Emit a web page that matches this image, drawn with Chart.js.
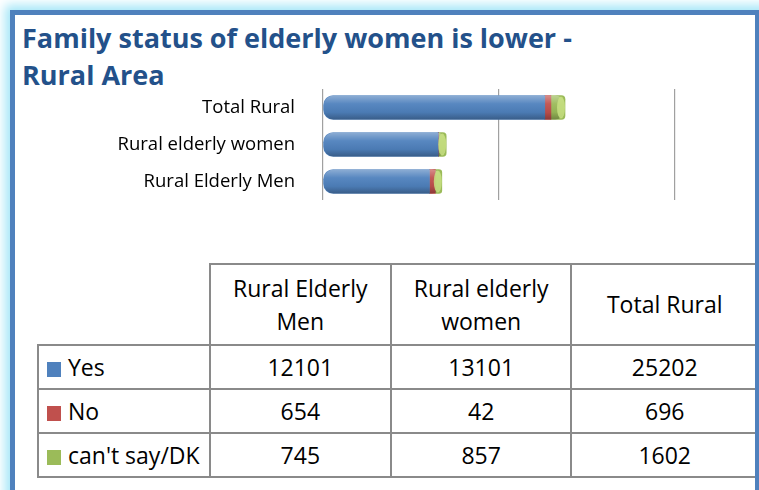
<!DOCTYPE html>
<html>
<head>
<meta charset="utf-8">
<script src="https://cdn.jsdelivr.net/npm/chart.js@4.4.1/dist/chart.umd.min.js"></script>
<style>
	html, body { margin:0; padding:0; width:759px; height:490px; overflow:hidden; background:#fff; font-family:'Open Sans', Lato, sans-serif; }
	.frame { position:absolute; left:10px; top:10px; width:760px; height:500px; background:#fff; border-left:5px solid #4f81bd; border-top:5px solid #4f81bd; box-shadow:0 0 10px 5px #a6e7f8; }
	.rstrip { position:absolute; left:755px; top:10px; width:4px; height:480px; background:#4f81bd; z-index:5; }
	.title { position:absolute; left:22px; top:19px; font-weight:bold; font-size:27px; line-height:37px; color:#23518a; white-space:nowrap; }
	.box { position:absolute; left:0; top:72px; width:759px; height:140px; }
	table { position:absolute; left:37px; top:263px; border-collapse:collapse; table-layout:fixed; font-size:23px; color:#000; }
	td, th { border:2px solid #8a8a8a; padding:0; font-weight:normal; text-align:center; }
	th { height:79px; line-height:33px; padding:0 12px; }
	td { height:42px; }
	th.blank { border-top:hidden; border-left:hidden; }
	td.lab { text-align:left; padding-left:8px; white-space:nowrap; }
	td.lab span { display:inline-block; width:14px; height:15px; margin-right:7px; vertical-align:-1px; }
</style>
</head>
<body>
<div class="frame"></div>
<div class="rstrip"></div>
<div class="title" id="title"></div>
<div class="box"><canvas id="c"></canvas></div>
<table id="tbl"></table>
<script>
const titleLines = ['Family status of elderly women is lower -', 'Rural Area']
const categories = ['Rural Elderly Men', 'Rural elderly women', 'Total Rural']
const seriesNames = ['Yes', 'No', "can't say/DK"]
const yesValues = [12101, 13101, 25202]
const noValues = [654, 42, 696]
const dkValues = [745, 857, 1602]
const colors = ['#4f81bd', '#c0504d', '#9bbb59']

document.getElementById('title').innerHTML = titleLines.join('<br>')

// data table under the chart
const tbl = document.getElementById('tbl')
const colW = [172, 184, 183, 190]
const cg = el => document.createElement(el)
;(a => {
	colW.forEach(w => { const c = cg('col'); c.style.width = w + 'px'; a.appendChild(c) })
})(tbl.appendChild(cg('colgroup')))
;(a => {
	const b = cg('th'); b.className = 'blank'; a.appendChild(b)
	categories.forEach(t => { const h = cg('th'); h.textContent = t; a.appendChild(h) })
})(tbl.appendChild(cg('tr')))
;[yesValues, noValues, dkValues].forEach((vals, i) => {
	const r = tbl.appendChild(cg('tr'))
	const l = cg('td'); l.className = 'lab'
	const s = cg('span'); s.style.background = colors[i]; l.appendChild(s)
	l.appendChild(document.createTextNode(seriesNames[i]))
	r.appendChild(l)
	vals.forEach(v => { const d = cg('td'); d.textContent = v; r.appendChild(d) })
})

// cylinder shading over each stacked bar
const shade = {
	id: 'shade',
	afterDatasetsDraw(chart) {
		const ctx = chart.ctx
		const m0 = chart.getDatasetMeta(0).data
		const m2 = chart.getDatasetMeta(2).data
		m0.forEach((e, i) => {
			const x0 = e.base, x1 = m2[i].x, y = e.y, h = e.height
			const g = ctx.createLinearGradient(0, y - h / 2, 0, y + h / 2)
			g.addColorStop(0, 'rgba(255,255,255,0.35)')
			g.addColorStop(0.35, 'rgba(255,255,255,0.05)')
			g.addColorStop(0.7, 'rgba(0,0,0,0.05)')
			g.addColorStop(1, 'rgba(0,0,0,0.28)')
			ctx.save()
			ctx.beginPath()
			ctx.roundRect(x0, y - h / 2, x1 - x0, h, h / 2 - 2)
			ctx.fillStyle = g
			ctx.fill()
			// end cap
			ctx.beginPath()
			ctx.ellipse(x1 - 4, y, 4, h / 2 - 1, 0, 0, Math.PI * 2)
			ctx.fillStyle = 'rgba(200,225,130,0.85)'
			ctx.fill()
			ctx.restore()
		})
	}
}

new Chart(document.getElementById('c'), {
	type: 'bar',
	data: {
		labels: categories,
		datasets: [yesValues, noValues, dkValues].map((d, i) => ({
			label: seriesNames[i],
			data: d,
			backgroundColor: colors[i],
			barThickness: 24,
			borderSkipped: false,
			borderRadius: i == 0 ? {topLeft: 10, bottomLeft: 10, topRight: 0, bottomRight: 0}
				: i == 2 ? {topLeft: 0, bottomLeft: 0, topRight: 4, bottomRight: 4} : 0,
		}))
	},
	options: {
		indexAxis: 'y',
		responsive: true,
		maintainAspectRatio: false,
		animation: false,
		layout: { padding: { top: 17, bottom: 12, left: 0, right: 84 } },
		plugins: { legend: { display: false }, tooltip: { enabled: false } },
		scales: {
			x: {
				stacked: true, min: 0, max: 40000,
				ticks: { display: false, stepSize: 20000 },
				grid: { color: '#a0a0a0', lineWidth: 1.2, drawTicks: false },
				border: { display: false },
				afterFit: s => { s.height = 0; s.paddingLeft = 0; s.paddingRight = 0 }
			},
			y: {
				stacked: true, reverse: true,
				ticks: { color: '#000', padding: 28, font: { family: 'Open Sans', size: 18.5 } },
				grid: { display: false, drawTicks: false },
				border: { display: false },
				afterFit: s => { s.width = 323; s.paddingTop = 0; s.paddingBottom = 0 }
			}
		}
	},
	plugins: [shade]
})
</script>
</body>
</html>
